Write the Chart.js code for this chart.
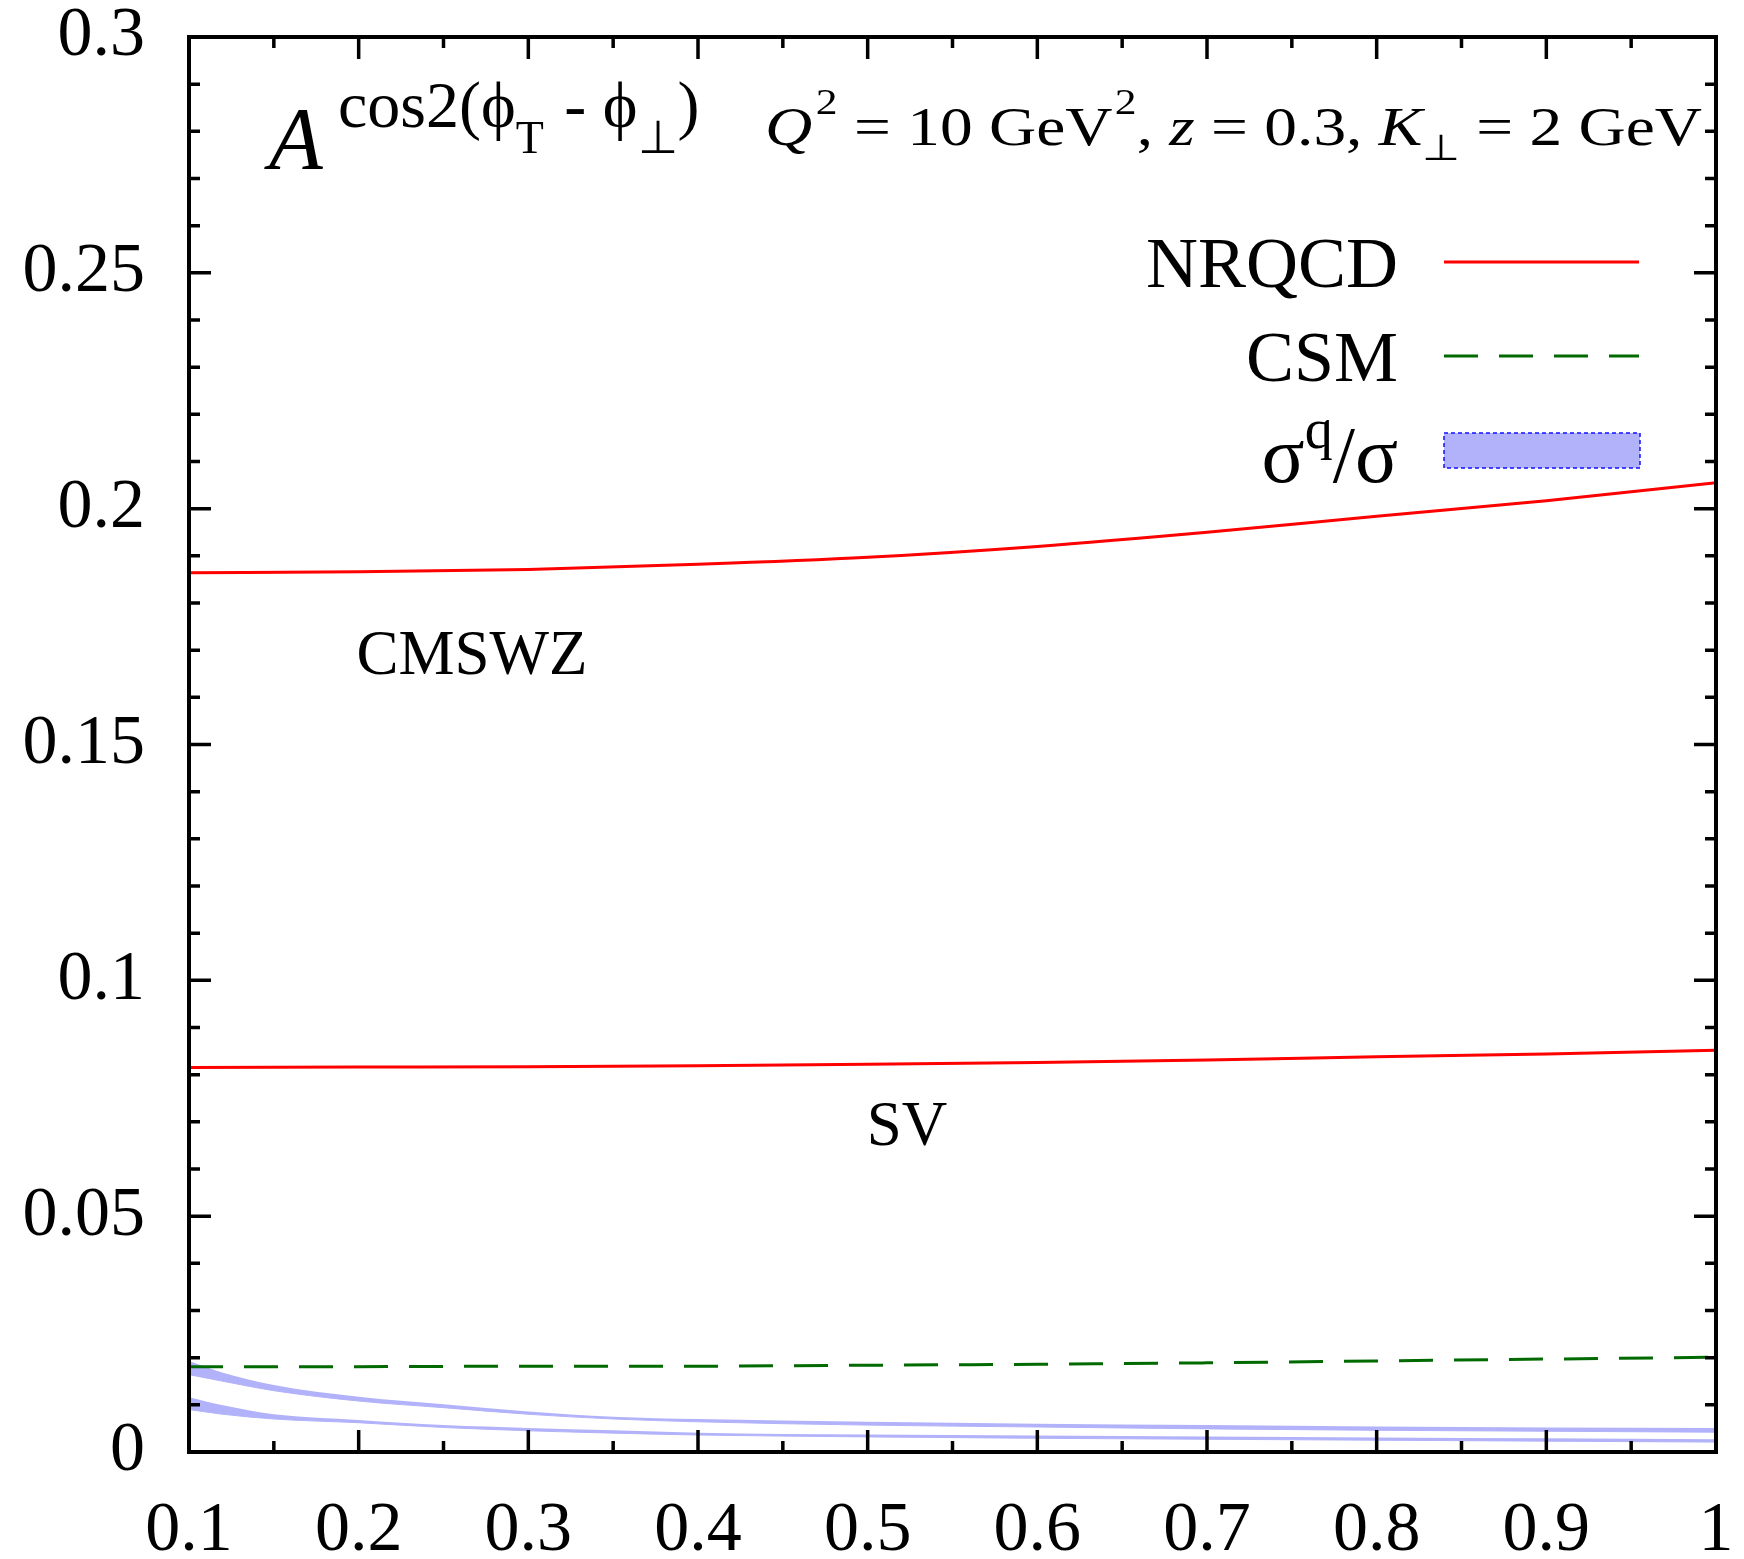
<!DOCTYPE html>
<html>
<head>
<meta charset="utf-8">
<script src="https://cdn.jsdelivr.net/npm/chart.js@4.4.0/dist/chart.umd.min.js"></script>
<style>
  body { margin: 0; background: #fff; }
  canvas { display: block; }
</style>
</head>
<body>
<canvas id="asymChart" width="1744" height="1559"></canvas>
<script>
// x grid of the model curves
const xValues = [0.1, 0.2, 0.3, 0.4, 0.5, 0.6, 0.7, 0.8, 0.9, 1.0];
const nrqcdCMSWZ = [0.1864, 0.1866, 0.1871, 0.1882, 0.1897, 0.1920, 0.1950, 0.1984, 0.2017, 0.2055];
const nrqcdSV = [0.0815, 0.0816, 0.0817, 0.0819, 0.0822, 0.0826, 0.0831, 0.0838, 0.0844, 0.0852];
const csmValues = [0.0181, 0.0181, 0.0182, 0.0182, 0.0184, 0.0186, 0.0189, 0.0193, 0.0197, 0.0201];

// sigma^q / sigma bands
const bandX = [0.1, 0.12, 0.15, 0.2, 0.25, 0.3, 0.35, 0.4, 0.5, 0.6, 0.7, 0.8, 0.9, 1.0];
const upperBandHi = [0.0193, 0.0168, 0.0142, 0.0117, 0.0101, 0.0086, 0.0075, 0.0070, 0.0064, 0.0060, 0.0057, 0.0054, 0.0052, 0.0051];
const upperBandLo = [0.0164, 0.0150, 0.0130, 0.0108, 0.0094, 0.0080, 0.0070, 0.0064, 0.0057, 0.0053, 0.0049, 0.0046, 0.0044, 0.0042];
const lowerBandHi = [0.0116, 0.0099, 0.0080, 0.0068, 0.0057, 0.0051, 0.0046, 0.0041, 0.0037, 0.0035, 0.0033, 0.0031, 0.0029, 0.0027];
const lowerBandLo = [0.0090, 0.0080, 0.0070, 0.0062, 0.0052, 0.0045, 0.0040, 0.0036, 0.0032, 0.0029, 0.0027, 0.0025, 0.0023, 0.0021];

// axis ticks
const xTicks = [0.1, 0.2, 0.3, 0.4, 0.5, 0.6, 0.7, 0.8, 0.9, 1];
const xTickLabels = ['0.1', '0.2', '0.3', '0.4', '0.5', '0.6', '0.7', '0.8', '0.9', '1'];
const xMinorTicks = [0.15, 0.25, 0.35, 0.45, 0.55, 0.65, 0.75, 0.85, 0.95];
const yTicks = [0, 0.05, 0.1, 0.15, 0.2, 0.25, 0.3];
const yTickLabels = ['0', '0.05', '0.1', '0.15', '0.2', '0.25', '0.3'];
const yMinorTicks = [0.01, 0.02, 0.03, 0.04, 0.06, 0.07, 0.08, 0.09, 0.11, 0.12, 0.13, 0.14,
                     0.16, 0.17, 0.18, 0.19, 0.21, 0.22, 0.23, 0.24, 0.26, 0.27, 0.28, 0.29];

const RED = '#ff0000';
const GREEN = '#006a00';
const BAND = 'rgb(178, 178, 250)';
const SERIF = '"Liberation Serif", "Times New Roman", serif';

const pts = (xs, ys) => xs.map((x, i) => ({ x: x, y: ys[i] }));

function drawRuns(ctx, x, runs) {
    runs.forEach(r => {
        ctx.font = r.font;
        ctx.fillText(r.text, x, r.y);
        x += ctx.measureText(r.text).width + (r.gap || 0);
    });
    return x;
}
function runsWidth(ctx, runs) {
    let w = 0;
    runs.forEach(r => { ctx.font = r.font; w += ctx.measureText(r.text).width + (r.gap || 0); });
    return w;
}

const framePlugin = {
    id: 'frame',
    afterDraw(chart) {
        const ctx = chart.ctx;
        const area = chart.chartArea;
        const xs = chart.scales.x, ys = chart.scales.y;
        ctx.save();
        ctx.strokeStyle = '#000';

        // inward ticks on all four sides
        ctx.lineWidth = 3.5;
        ctx.beginPath();
        const tickX = (v, len) => {
            const p = xs.getPixelForValue(v);
            ctx.moveTo(p, area.bottom); ctx.lineTo(p, area.bottom - len);
            ctx.moveTo(p, area.top); ctx.lineTo(p, area.top + len);
        };
        const tickY = (v, len) => {
            const p = ys.getPixelForValue(v);
            ctx.moveTo(area.left, p); ctx.lineTo(area.left + len, p);
            ctx.moveTo(area.right, p); ctx.lineTo(area.right - len, p);
        };
        xTicks.forEach(v => tickX(v, 22));
        xMinorTicks.forEach(v => tickX(v, 11));
        yTicks.forEach(v => tickY(v, 22));
        yMinorTicks.forEach(v => tickY(v, 11));
        ctx.stroke();

        ctx.lineWidth = 4;
        ctx.strokeRect(area.left, area.top, area.right - area.left, area.bottom - area.top);

        ctx.fillStyle = '#000';
        ctx.textBaseline = 'alphabetic';
        ctx.textAlign = 'left';

        // title  A^{cos2(phi_T - phi_perp)}
        ctx.font = 'italic 88px ' + SERIF;
        ctx.fillText('A', 269, 168);
        const big = '66px ' + SERIF, small = '46px ' + SERIF;
        drawRuns(ctx, 338, [
            { text: 'cos2(\u03D5', font: big, y: 127 },
            { text: 'T', font: small, y: 153, gap: 4 },
            { text: ' - \u03D5', font: big, y: 127 },
            { text: '\u22A5', font: small, y: 153 },
            { text: ')', font: big, y: 127 }
        ]);

        // kinematics
        const m = '54px ' + SERIF, mi = 'italic 54px ' + SERIF, sup = '36px ' + SERIF;
        const kin = [
            { text: 'Q', font: mi, y: 145, gap: 3 },
            { text: '2', font: sup, y: 114 },
            { text: ' = 10 GeV', font: m, y: 145, gap: 2 },
            { text: '2', font: sup, y: 114 },
            { text: ', ', font: m, y: 145 },
            { text: 'z', font: mi, y: 145 },
            { text: ' = 0.3, ', font: m, y: 145 },
            { text: 'K', font: mi, y: 145 },
            { text: '\u22A5', font: sup, y: 160 },
            { text: ' = 2 GeV', font: m, y: 145 }
        ];
        const kw = runsWidth(ctx, kin);
        ctx.save();
        ctx.translate(765, 0);
        ctx.scale(937 / kw, 1);
        drawRuns(ctx, 0, kin);
        ctx.restore();

        // curve labels
        ctx.font = '63px ' + SERIF;
        ctx.textAlign = 'center';
        ctx.fillText('CMSWZ', 472, 674);
        ctx.fillText('SV', 907, 1145);

        // legend
        ctx.textAlign = 'right';
        ctx.font = '72px ' + SERIF;
        ctx.fillText('NRQCD', 1398, 287);
        ctx.fillText('CSM', 1398, 381);
        ctx.textAlign = 'left';
        const sig = [
            { text: '\u03C3', font: '80px ' + SERIF, y: 482 },
            { text: 'q', font: '56px ' + SERIF, y: 448 },
            { text: '/\u03C3', font: '80px ' + SERIF, y: 482 }
        ];
        drawRuns(ctx, 1398 - runsWidth(ctx, sig), sig);

        ctx.lineWidth = 3;
        ctx.strokeStyle = RED;
        ctx.beginPath(); ctx.moveTo(1444, 262); ctx.lineTo(1639, 262); ctx.stroke();
        ctx.strokeStyle = GREEN;
        ctx.setLineDash([34, 21]);
        ctx.beginPath(); ctx.moveTo(1444, 356); ctx.lineTo(1639, 356); ctx.stroke();
        ctx.fillStyle = BAND;
        ctx.fillRect(1444, 433, 196, 35);
        ctx.strokeStyle = '#1010ff';
        ctx.lineWidth = 1.5;
        ctx.setLineDash([4, 3]);
        ctx.strokeRect(1444, 433, 196, 35);
        ctx.restore();
    }
};

const lineStyle = { pointRadius: 0, cubicInterpolationMode: 'monotone', fill: false };

new Chart(document.getElementById('asymChart').getContext('2d'), {
    type: 'line',
    data: {
        datasets: [
            Object.assign({ label: 'NRQCD CMSWZ', data: pts(xValues, nrqcdCMSWZ), borderColor: RED, borderWidth: 3 }, lineStyle),
            Object.assign({ label: 'NRQCD SV', data: pts(xValues, nrqcdSV), borderColor: RED, borderWidth: 3 }, lineStyle),
            Object.assign({ label: 'CSM', data: pts(xValues, csmValues), borderColor: GREEN, borderWidth: 3, borderDash: [34, 21] }, lineStyle),
            Object.assign({}, lineStyle, { label: 'upper band hi', data: pts(bandX, upperBandHi), borderWidth: 0, borderColor: BAND }),
            Object.assign({}, lineStyle, { label: 'upper band lo', data: pts(bandX, upperBandLo), borderWidth: 1, borderColor: BAND, backgroundColor: BAND, fill: '-1' }),
            Object.assign({}, lineStyle, { label: 'lower band hi', data: pts(bandX, lowerBandHi), borderWidth: 0, borderColor: BAND }),
            Object.assign({}, lineStyle, { label: 'lower band lo', data: pts(bandX, lowerBandLo), borderWidth: 1, borderColor: BAND, backgroundColor: BAND, fill: '-1' })
        ]
    },
    options: {
        responsive: false,
        animation: false,
        layout: { autoPadding: false, padding: { top: 37, right: 28, left: 0, bottom: 0 } },
        plugins: {
            legend: { display: false },
            tooltip: { enabled: false }
        },
        scales: {
            x: {
                type: 'linear',
                min: 0.1,
                max: 1,
                grid: { display: false, drawTicks: false },
                border: { display: false },
                afterBuildTicks: s => { s.ticks = xTicks.map(v => ({ value: v })); },
                afterFit: s => { s.height = 107; s.paddingLeft = 0; s.paddingRight = 0; },
                ticks: {
                    padding: 38,
                    color: '#000',
                    font: { family: SERIF, size: 70 },
                    maxRotation: 0,
                    autoSkip: false,
                    callback: (v, i) => xTickLabels[i]
                }
            },
            y: {
                min: 0,
                max: 0.3,
                grid: { display: false, drawTicks: false },
                border: { display: false },
                afterBuildTicks: s => { s.ticks = yTicks.map(v => ({ value: v })); },
                afterFit: s => { s.width = 189; s.paddingTop = 0; s.paddingBottom = 0; },
                ticks: {
                    padding: 44,
                    color: '#000',
                    font: { family: SERIF, size: 70 },
                    autoSkip: false,
                    callback: (v, i) => yTickLabels[i]
                }
            }
        }
    },
    plugins: [framePlugin]
});
</script>
</body>
</html>
